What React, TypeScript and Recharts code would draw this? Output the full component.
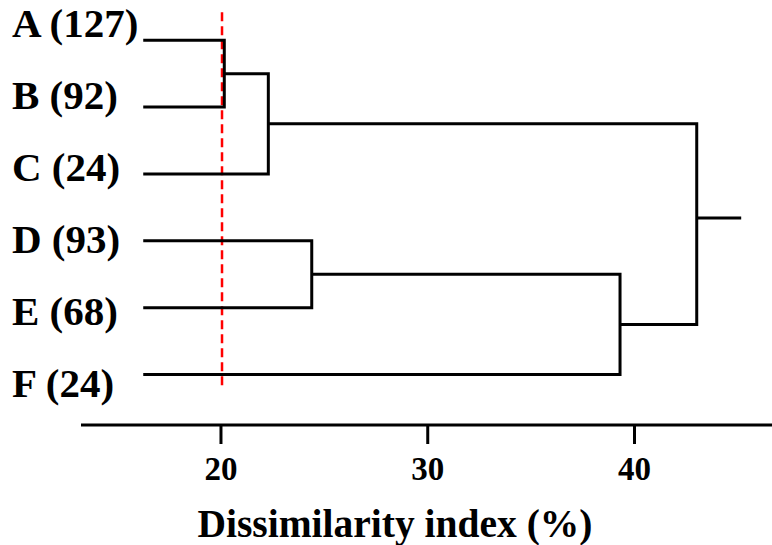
import React from 'react';
import { ComposedChart, Line, XAxis, YAxis } from 'recharts';

// Leaf labels (top to bottom)
const leafLabels = ['A (127)', 'B (92)', 'C (24)', 'D (93)', 'E (68)', 'F (24)'];
// Dissimilarity where leaf branches start
const leafStart = 16.24;
// Merge nodes: children ids (0-5 leaves, 6+ merges in order) and heights (%)
const mergeLeft = [0, 6, 3, 8, 7];
const mergeRight = [1, 2, 4, 5, 9];
const mergeHeights = [20.16, 22.29, 24.39, 39.3, 43.01];
// Root stem
const rootTailEnd = 45.16;
const rootTailPos = 2.66;
// Cut-off line
const cutValue = 20.05;
const cutRange = [-0.42, 5.21];
// Axis ticks
const xTicks = [20, 30, 40];

const FONT = '"Liberation Serif", "Times New Roman", serif';

// Build node positions (y = leaf order index, x = height)
const nodeY: number[] = leafLabels.map((_, i) => i);
const nodeX: number[] = leafLabels.map(() => leafStart);
mergeHeights.forEach((h, k) => {
  nodeY.push((nodeY[mergeLeft[k]] + nodeY[mergeRight[k]]) / 2);
  nodeX.push(h);
});

const brackets = mergeHeights.map((h, k) => {
  const l = mergeLeft[k];
  const r = mergeRight[k];
  return [
    { x: nodeX[l], y: nodeY[l] },
    { x: h, y: nodeY[l] },
    { x: h, y: nodeY[r] },
    { x: nodeX[r], y: nodeY[r] },
  ];
});
const rootHeight = mergeHeights[mergeHeights.length - 1];
const rootStem = [
  { x: rootHeight, y: rootTailPos },
  { x: rootTailEnd, y: rootTailPos },
];
const cutLine = [
  { x: cutValue, y: cutRange[0] },
  { x: cutValue, y: cutRange[1] },
];

const LeafTick = (props: any) => {
  const { y, payload } = props;
  const label = leafLabels[payload.value];
  if (label === undefined) return null;
  return (
    <text x={12} y={y} fontSize={41} fontWeight="bold" fontFamily={FONT} fill="#000" textAnchor="start">
      {label}
    </text>
  );
};

const Title = () => (
  <text x={395} y={537} fontSize={39.5} fontWeight="bold" fontFamily={FONT} fill="#000" textAnchor="middle">
    Dissimilarity index (%)
  </text>
);

export default function App() {
  return (
    <div style={{ position: 'absolute', left: 0, top: 0, width: 772, height: 545, background: '#fff' }}>
      <ComposedChart width={772} height={545} margin={{ top: 0, right: 0, bottom: 0, left: 0 }}>
        <XAxis
          dataKey="x"
          type="number"
          domain={[13.23, 46.65]}
          allowDataOverflow
          ticks={xTicks}
          height={120}
          axisLine={{ stroke: '#000', strokeWidth: 3 }}
          tickLine={{ stroke: '#000', strokeWidth: 3 }}
          tickSize={19}
          tickMargin={13}
          tick={{ fontSize: 33, fontWeight: 'bold', fill: '#000', fontFamily: FONT }}
          label={{ content: () => <Title /> }}
        />
        <YAxis yAxisId="tree" type="number" dataKey="y" domain={[-0.602, 5.755]} reversed allowDataOverflow hide />
        <YAxis
          yAxisId="labels"
          type="number"
          domain={[-0.514, 5.389]}
          reversed
          allowDataOverflow
          ticks={[0, 1, 2, 3, 4, 5]}
          width={81}
          axisLine={false}
          tickLine={false}
          tick={<LeafTick />}
        />
        <Line
          yAxisId="tree"
          data={cutLine}
          dataKey="y"
          stroke="#f00"
          strokeWidth={2.5}
          strokeDasharray="9 5"
          dot={false}
          isAnimationActive={false}
        />
        {brackets.map((b, i) => (
          <Line
            key={i}
            yAxisId="tree"
            data={b}
            dataKey="y"
            type="linear"
            stroke="#000"
            strokeWidth={3}
            dot={false}
            isAnimationActive={false}
          />
        ))}
        <Line
          yAxisId="tree"
          data={rootStem}
          dataKey="y"
          stroke="#000"
          strokeWidth={3}
          dot={false}
          isAnimationActive={false}
        />
      </ComposedChart>
    </div>
  );
}
